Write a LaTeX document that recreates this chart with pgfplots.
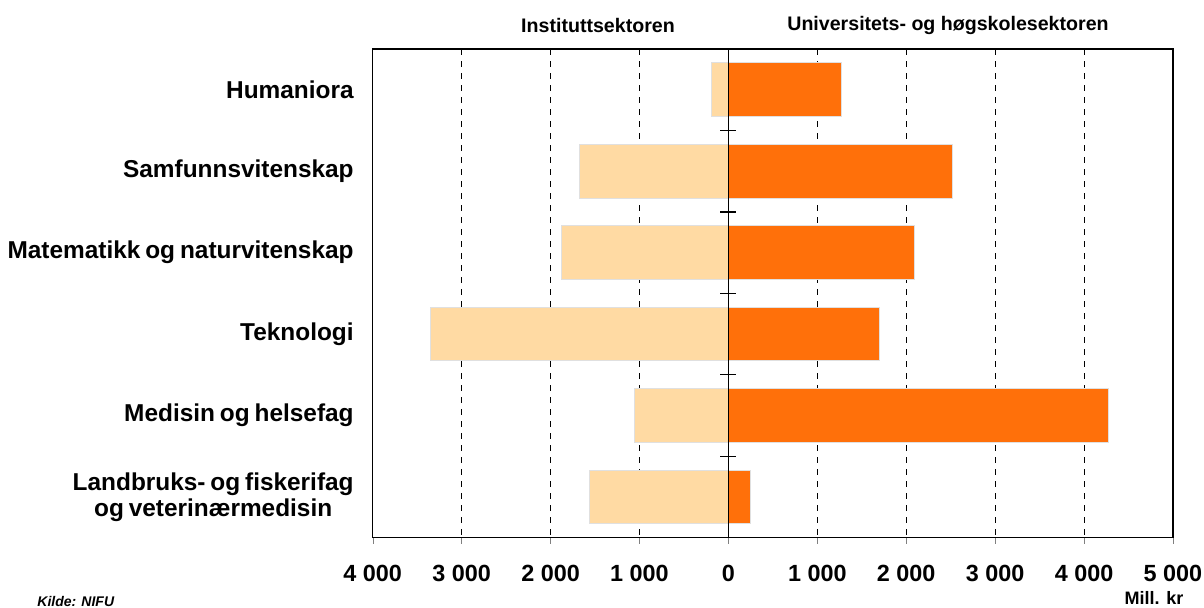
\documentclass[border=0pt]{standalone}
\usepackage{pgfplots}
\pgfplotsset{compat=1.18}
\usepackage{fontspec}
\setmainfont{Liberation Sans}
\definecolor{lightor}{RGB}{255,218,163}
\definecolor{darkor}{RGB}{255,112,10}
\newcommand{\catfont}{\bfseries\fontsize{12.2}{13}\selectfont\spaceskip=0.2em\relax}
\begin{document}
\begin{tikzpicture}[x=1pt,y=1pt]
\begin{axis}[
  at={(186.35pt,34.65pt)}, anchor=south west,
  scale only axis, width=400.15pt, height=244.35pt,
  xmin=-4000, xmax=5000, ymin=0.5, ymax=6.5,
  y dir=reverse,
  xbar, bar width=0.66, bar shift=0pt,
  xtick={-4000,-3000,...,5000},
  xticklabels={4 000,3 000,2 000,1 000,0,1 000,2 000,3 000,4 000,5 000},
  xtick pos=bottom, tick align=outside, major tick length=3pt,
  xticklabel style={font=\bfseries\fontsize{11.7}{13}\selectfont, yshift=-7pt},
  xmajorgrids, grid style={black, dashed, line width=0.5pt},
  ytick={1,...,6},
  yticklabels={Humaniora,Samfunnsvitenskap,Matematikk og naturvitenskap,Teknologi,Medisin og helsefag,{Landbruks- og fiskerifag\\og veterinærmedisin}},
  yticklabel style={font=\catfont, align=center, xshift=-3pt},
  ytick style={draw=none},
  axis line style={black, line width=0.6pt},
]
\addplot[fill=lightor, draw=black!12, line width=0.5pt] coordinates {
  (-187,1) (-1676,2) (-1874,3) (-3355,4) (-1061,5) (-1564,6)};
\addplot[fill=darkor, draw=black!12, line width=0.5pt] coordinates {
  (1268,1) (2516,2) (2089,3) (1699,4) (4275,5) (252,6)};
\draw[black, line width=0.6pt] (axis cs:0,0.5) -- (axis cs:0,6.5);
\draw[black, line width=1.2pt] ([xshift=-3pt]axis cs:0,0.5) -- ([xshift=3pt]axis cs:0,0.5);
\pgfplotsinvokeforeach{1.5,2.5,3.5,4.5,5.5}{
  \draw[black, line width=0.6pt] ([xshift=-4pt]axis cs:0,#1) -- ([xshift=4pt]axis cs:0,#1);
}
\end{axis}
\node[font=\bfseries\fontsize{9.8}{11}\selectfont] at (299pt,291pt) {Instituttsektoren};
\node[font=\bfseries\fontsize{9.8}{11}\selectfont] at (474pt,291pt) {Universitets- og høgskolesektoren};
\node[font=\bfseries\itshape\fontsize{7}{8}\selectfont, anchor=west, inner sep=0pt] at (18.5pt,3pt) {Kilde: NIFU};
\node[font=\bfseries\fontsize{9}{10}\selectfont, inner sep=0pt] at (577pt,4.5pt) {Mill. kr};
\pgfresetboundingbox
\path[use as bounding box] (0,0) rectangle (602pt,303.5pt);
\end{tikzpicture}
\end{document}
